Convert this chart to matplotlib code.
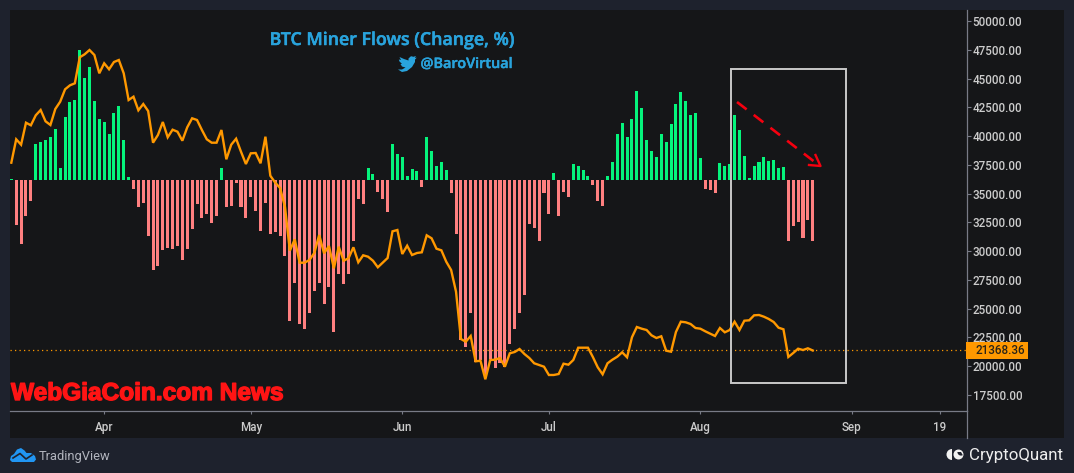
import matplotlib
matplotlib.use("Agg")
import matplotlib.pyplot as plt
import matplotlib.dates as mdates
import matplotlib.patheffects as pe
from matplotlib.lines import Line2D
from matplotlib.patches import Rectangle, Polygon, Wedge, Circle
from matplotlib.transforms import IdentityTransform
import pandas as pd

flow_change = [1, -45, -64, -36, -21, 36, 38, 40, 43, 51, 12, 63, 78, 80, 130, 102, 113, 79, 61, 58,
               46, 67, 74, 40, 3, -9, -27, -23, -56, -90, -86, -70, -68, -69, -66, -80, -69, -49, -24, -38,
               -34, -43, -36, 12, -27, -26, -3, -27, -38, -17, -31, -51, -23, -54, -52, -56, -76, -141, -103, -144,
               -149, -133, -111, -103, -124, -107, -152, -94, -104, -94, -61, -19, -24, 12, 6, -12, -19, -32, 36, 26,
               23, 4, 11, 9, -7, 43, 29, 14, 18, 10, -13, -54, -160, -167, -133, -182, -180, -198, -179, -188,
               -183, -187, -164, -149, -133, -115, -44, -48, -61, -13, -34, 7, -36, -12, -17, 16, 14, 10, 4, -5,
               -21, -26, 4, 18, 46, 57, 43, 61, 89, 72, 40, 29, 23, 46, 38, 56, 76, 88, 79, 65,
               67, 22, -9, -10, -13, 17, 14, 16, 65, 50, 24, 2, 14, 18, 23, 19, 20, 12, 13, -61,
               -46, -42, -58, -40, -61]

btc_price = [37687, 39720, 39251, 41162, 40936, 41805, 42266, 41284, 40963, 42353, 42987, 44065, 44412, 44586, 46846,
             47106, 47480, 47045, 45455, 46324, 45803, 46437, 46611, 45455, 43135, 43422, 42240, 42787, 42179, 39424,
             40093, 41223, 39894, 40554, 40380, 39598, 40763, 41545, 41397, 40528, 39720, 39424, 39424, 40528, 37982,
             39251, 39772, 38642, 37573, 38503, 38529, 37634, 39946, 36557, 35948, 35488, 33837, 30039, 31030, 28996,
             28996, 29231, 29839, 31403, 29813, 30448, 28510, 30387, 29170, 29379, 30335, 29031, 29639, 29518, 29170,
             28597, 28996, 29405, 31725, 31838, 29752, 30474, 29665, 29839, 29900, 31377, 31117, 30213, 30074, 29083,
             28362, 26476, 22366, 22131, 22627, 20428, 20480, 18864, 20541, 20567, 20715, 19959, 21123, 21236, 21497,
             21062, 20715, 20254, 20107, 19959, 19238, 19238, 19324, 20219, 20133, 20541, 21610, 21610, 21610, 20802,
             19907, 19298, 20254, 20567, 20828, 21210, 20776, 22514, 23409, 23261, 23148, 22687, 22453, 22601, 21349,
             21262, 22974, 23869, 23817, 23669, 23322, 23261, 23035, 22826, 22627, 23322, 22948, 23148, 23869, 23148,
             23956, 23991, 24425, 24451, 24304, 24104, 23843, 23348, 23209, 20802, 21149, 21523, 21410, 21558, 21368]

start_date = "2022-03-13"
last_price = 21368.36
price_ticks = [17500, 20000, 22500, 25000, 27500, 30000, 32500, 35000, 37500, 40000,
               42500, 45000, 47500, 50000]
date_ticks = ["2022-04-01", "2022-05-01", "2022-06-01", "2022-07-01", "2022-08-01", "2022-09-01", "2022-09-19"]
date_labels = ["Apr", "May", "Jun", "Jul", "Aug", "Sep", "19"]

OUTER = "#1e222d"
PANE = "#151618"
GREEN = "#05f47c"
RED = "#ff8080"
ORANGE = "#ff9800"
AXIS = "#787b86"
LABEL = "#cccccc"
BLUE = "#29a3dc"

W, H = 1074, 473
plt.rcParams["font.family"] = ["Roboto", "DejaVu Sans"]
fig = plt.figure(figsize=(W / 100, H / 100), dpi=100, facecolor=OUTER)
ident = IdentityTransform()


def Y(y):
    return H - y


fig.add_artist(Rectangle((10, Y(438)), 1054, 428, transform=ident, fc=PANE, ec="none", zorder=-5))

L, R, T, B = 10, 966.7, 10, 411
rect = [L / W, 1 - B / H, (R - L) / W, (B - T) / H]
ax2 = fig.add_axes(rect)
ax = fig.add_axes(rect)
ax.patch.set_visible(False)
ax2.patch.set_visible(False)

dates = pd.date_range(start_date, periods=len(btc_price), freq="D")
colors = [GREEN if v >= 0 else RED for v in flow_change]
ax2.bar(dates, flow_change, width=0.62, color=colors, linewidth=0)
ax2.set_ylim(-231, 170)
ax2.axis("off")

ax.plot(dates, btc_price, color=ORANGE, lw=1.7, solid_joinstyle="miter", zorder=3)
ax.axhline(last_price, color=ORANGE, lw=0.9, ls=(0, (1, 2.6)), zorder=2)
ax.set_ylim(16109, 50956)
x0 = mdates.date2num(dates[0])
xlim = (x0 - 0.27, x0 + 195.5)
ax.set_xlim(xlim)
ax2.set_xlim(xlim)

ax.yaxis.tick_right()
ax.set_yticks(price_ticks)
ax.set_yticklabels([f"{p:.2f}" for p in price_ticks], fontweight="medium")
ax.set_xticks(pd.to_datetime(date_ticks))
ax.set_xticklabels(date_labels, fontweight="medium")
ax.tick_params(axis="y", colors=AXIS, labelcolor=LABEL, labelsize=8.4, length=3, width=0.8, pad=1.3)
ax.tick_params(axis="x", colors=AXIS, labelcolor=LABEL, labelsize=8.4, length=2.4, width=0.8, pad=5)
for s in ("top", "left"):
    ax.spines[s].set_visible(False)
for s in ("right", "bottom"):
    ax.spines[s].set_color(AXIS)
    ax.spines[s].set_linewidth(0.9)
fig.add_artist(Line2D([R, R], [Y(411), Y(438)], transform=ident, color=AXIS, lw=0.9))

# price label
fig.add_artist(Rectangle((966, Y(359)), 62, 17, transform=ident, fc=ORANGE, ec="none", zorder=6))
fig.text(975, Y(350.5), f"{last_price:.2f}", transform=ident, color="#2a2418", fontsize=8.4,
         fontweight="medium", va="center", ha="left", zorder=7)

# highlight box and arrow
fig.add_artist(Rectangle((731, Y(383)), 115, 314, transform=ident, fc="none", ec="#c8c8c8", lw=1.4, zorder=5))
fig.add_artist(Line2D([737, 818], [Y(102), Y(164.5)], transform=ident, color="#f5000f", lw=1.9,
                      ls=(0, (4.6, 3.4)), zorder=6))
fig.add_artist(Line2D([809, 820.5, 815.5], [Y(165), Y(166), Y(155)], transform=ident, color="#f5000f",
                      lw=1.7, zorder=6))

# title
fig.text(392, Y(40), "BTC Miner Flows (Change, %)", transform=ident, color=BLUE, fontsize=12.8,
         family=["Open Sans", "DejaVu Sans"], fontweight="semibold", ha="center", va="center",
         path_effects=[pe.withStroke(linewidth=0.35, foreground=BLUE)])
fig.text(420.5, Y(64), "@BaroVirtual", transform=ident, color=BLUE, fontsize=10.4,
         family=["Open Sans", "DejaVu Sans"], fontweight="semibold", ha="left", va="center",
         path_effects=[pe.withStroke(linewidth=0.3, foreground=BLUE)])
bird = [(398, 69.5), (402, 69.5), (405.5, 67.5), (402, 66.5), (400.5, 64), (402, 63.8), (399.5, 61.5),
        (398.8, 59.5), (401, 60), (399.5, 57), (404, 59), (408.5, 60.5), (408.5, 58.5), (411, 56.2),
        (413.5, 56.8), (416, 56), (414.8, 58), (416.8, 57.6), (415, 59.6), (415, 62), (412, 67),
        (407, 71), (402, 72)]
fig.add_artist(Polygon([(x, Y(y)) for x, y in bird], transform=ident, fc=BLUE, ec="none"))

# watermark
fig.text(11, Y(393.5), "WebGiaCoin.com News", transform=ident, color="#ff1414", fontsize=17.6,
         family=["Liberation Sans", "DejaVu Sans"], fontweight="bold", ha="left", va="center", zorder=8,
         path_effects=[pe.withStroke(linewidth=1.0, foreground="#ff1414")])

# TradingView logo
cloud = [(10, 460), (11, 456), (14, 454), (17, 449.5), (21, 448), (24.5, 450.5), (26.5, 453), (31, 453),
         (35, 456), (36, 459.5), (34, 462), (12, 462)]
fig.add_artist(Polygon([(x, Y(y)) for x, y in cloud], transform=ident, fc="#2196f3", ec="none"))
fig.add_artist(Line2D([13, 20, 26, 32], [Y(458), Y(453.5), Y(459), Y(455)], transform=ident, color=OUTER, lw=1.2))
fig.text(39, Y(456), "TradingView", transform=ident, color="#b2b5be", fontsize=9.3, ha="left", va="center")

# CryptoQuant logo
fig.add_artist(Wedge((952, Y(454.5)), 5.5, 90, 270, transform=ident, fc="#f2f2f2", ec="none"))
fig.add_artist(Circle((958.5, Y(454.5)), 5, transform=ident, fc="#f2f2f2", ec="none"))
fig.add_artist(Wedge((961, Y(452)), 3.6, 180, 300, transform=ident, fc=OUTER, ec="none"))
fig.text(969, Y(455), "CryptoQuant", transform=ident, color="#eeeeee", fontsize=12.2, ha="left", va="center")

fig.savefig("out.png", dpi=100, facecolor=OUTER)
